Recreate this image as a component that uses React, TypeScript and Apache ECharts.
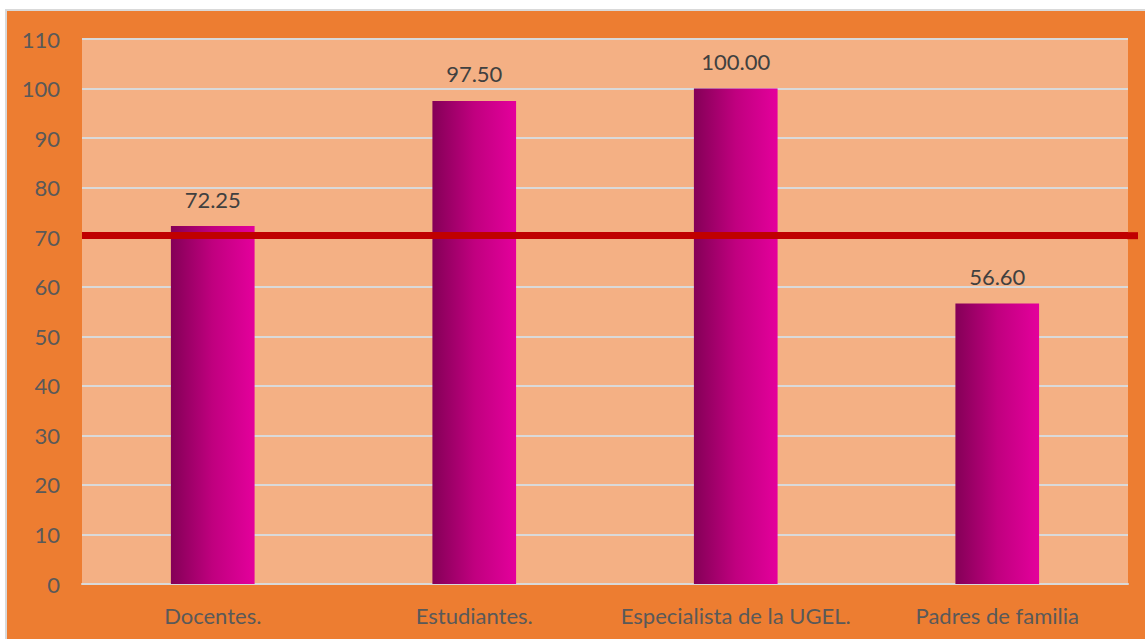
import React, { useEffect, useRef } from "react";
import * as echarts from "echarts";

const categories = ["Docentes.", "Estudiantes.", "Especialista de la UGEL.", "Padres de familia"];
const values = [72.25, 97.5, 100.0, 56.6];
const targetValue = 70.3;
const yMin = 0;
const yMax = 110;
const yInterval = 10;

export default function App() {
  const ref = useRef<HTMLDivElement>(null);
  useEffect(() => {
    if (!ref.current) return;
    const chart = echarts.init(ref.current, undefined, { renderer: "svg" });
    const font = "Lato, 'Liberation Sans', sans-serif";
    const gridRight = 17;
    const width = 1138;
    chart.setOption({
      animation: false,
      backgroundColor: "#ED7D31",
      grid: {
        left: 75,
        top: 28,
        right: gridRight,
        bottom: 55,
        show: true,
        backgroundColor: "#F4B084",
        borderWidth: 0,
      },
      xAxis: {
        type: "category",
        data: categories,
        axisLine: { show: true, lineStyle: { color: "#D9D9D9", width: 2 } },
        axisTick: { show: false },
        axisLabel: { color: "#595959", fontSize: 22, fontFamily: font, margin: 20, interval: 0 },
        splitLine: { show: false },
      },
      yAxis: {
        type: "value",
        min: yMin,
        max: yMax,
        interval: yInterval,
        axisLine: { show: false },
        axisTick: { show: false },
        axisLabel: { color: "#595959", fontSize: 22, fontFamily: font, margin: 22 },
        splitLine: { show: true, lineStyle: { color: "#D9D9D9", width: 2 } },
      },
      series: [
        {
          type: "bar",
          data: values,
          barWidth: "32%",
          itemStyle: {
            color: new echarts.graphic.LinearGradient(0, 0, 1, 0, [
              { offset: 0, color: "#840057" },
              { offset: 0.5, color: "#C0007F" },
              { offset: 1, color: "#E4009C" },
            ]),
          },
          label: {
            show: true,
            position: "top",
            distance: 16,
            color: "#404040",
            fontSize: 22,
            fontFamily: font,
            formatter: (p: any) => Number(p.value).toFixed(2),
          },
          markLine: {
            silent: true,
            symbol: "none",
            label: { show: false },
            lineStyle: { color: "#C00000", width: 7, type: "solid" },
            data: [{ yAxis: targetValue }],
          },
        },
      ],
    });
    const yPix = chart.convertToPixel({ yAxisIndex: 0 }, targetValue) as number;
    chart.setOption({
      graphic: [
        {
          type: "line",
          silent: true,
          z: 10,
          shape: { x1: width - gridRight - 1, y1: yPix, x2: width - gridRight + 10, y2: yPix },
          style: { stroke: "#C00000", lineWidth: 7 },
        },
      ],
    });
    return () => chart.dispose();
  }, []);
  return (
    <div style={{ position: "fixed", left: 0, top: 0, width: 1145, height: 639, background: "#ffffff" }}>
      <div
        style={{
          position: "absolute",
          left: 5,
          top: 9,
          width: 1140,
          height: 630,
          borderLeft: "2px solid #D9D9D9",
          borderTop: "2px solid #D9D9D9",
          boxSizing: "border-box",
        }}
      >
        <div ref={ref} style={{ width: 1138, height: 628 }} />
      </div>
    </div>
  );
}
